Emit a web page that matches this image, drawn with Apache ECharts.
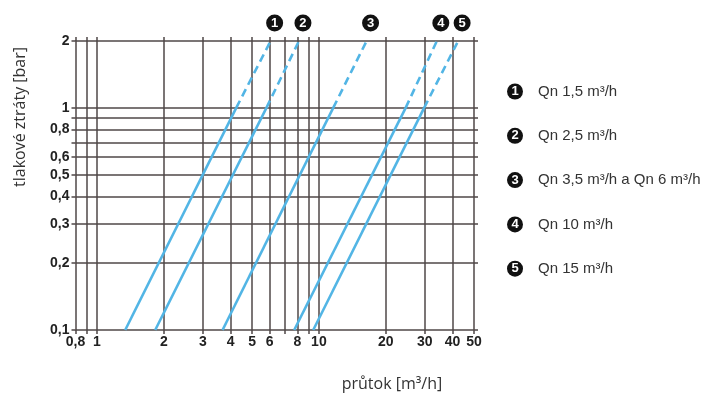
<!DOCTYPE html>
<html><head><meta charset="utf-8">
<script src="https://cdn.jsdelivr.net/npm/echarts@6/dist/echarts.min.js"></script>
<style>html,body{margin:0;padding:0;background:#fff}#c{width:710px;height:394px}</style>
</head><body><div id="c"></div>
<script>
// Pressure loss (bar) at which flows are read
const lossLow = 0.1, lossMid = 1, lossHigh = 2;
// Flow (m3/h) of each meter curve at 0.1 bar, 1 bar and 2 bar
const flowAt01 = [1.34, 1.83, 3.68, 7.74, 9.43];
const flowAt1  = [4.24, 5.80, 11.6, 24.6, 29.8];
const flowAt2  = [6.06, 8.13, 16.4, 34.0, 42.4];
const badges = ['1','2','3','4','5'];
const legendNames = ['Qn 1,5 m³/h','Qn 2,5 m³/h','Qn 3,5 m³/h a Qn 6 m³/h','Qn 10 m³/h','Qn 15 m³/h'];
// axis ticks / labels
const xTicks = [0.8,0.9,1,2,3,4,5,6,7,8,9,10,20,30,40,50];
const xLabels = [0.8,1,2,3,4,5,6,8,10,20,30,40,50];
const yTicks = [0.1,0.2,0.3,0.4,0.5,0.6,0.7,0.8,0.9,1,2];
const yLabels = [0.1,0.2,0.3,0.4,0.5,0.6,0.8,1,2];

const gridColor = '#4f4747';
const lineColor = '#52b5e5';
const fmt = v => String(Math.round(v*10)/10).replace('.', ',');
const labelStyle = {color:'#222', fontWeight:'bold', fontSize:14, fontFamily:'Liberation Sans, Arial, sans-serif'};

function mkX(pos, showLabel){
  return {type:'log', logBase:10, min:0.8, max:50, position:pos,
    axisLine:{show:false},
    axisTick:{show:true, length:4, customValues:xTicks, lineStyle:{color:gridColor, width:1.5}},
    axisLabel:Object.assign({show:showLabel, customValues:xLabels, formatter:fmt, margin:5}, labelStyle),
    splitLine:{show:pos==='bottom', lineStyle:{color:gridColor, width:1.5}},
    minorTick:{show:false}, minorSplitLine:{show:false}};
}
function mkY(pos, showLabel){
  return {type:'log', logBase:10, min:0.1, max:2, position:pos,
    axisLine:{show:false},
    axisTick:{show:true, length:4, customValues:yTicks, lineStyle:{color:gridColor, width:1.5}},
    axisLabel:Object.assign({show:showLabel, customValues:yLabels, formatter:fmt, margin:6}, labelStyle),
    splitLine:{show:pos==='left', lineStyle:{color:gridColor, width:1.5}},
    minorTick:{show:false}, minorSplitLine:{show:false}};
}

const series = [];
for (let i = 0; i < flowAt01.length; i++) {
  series.push({type:'line', xAxisIndex:0, yAxisIndex:0, symbol:'none', silent:true,
    lineStyle:{color:lineColor, width:2.6},
    data:[[flowAt01[i], lossLow],[flowAt1[i], lossMid]]});
  series.push({type:'line', xAxisIndex:0, yAxisIndex:0, symbol:'none', silent:true,
    lineStyle:{color:lineColor, width:2.6, type:[8,5]},
    data:[[flowAt1[i], lossMid],[flowAt2[i], lossHigh]],
    markPoint:{symbol:'circle', symbolSize:17, symbolOffset:[4,-18], silent:true,
      itemStyle:{color:'#111'},
      label:{show:true, color:'#fff', fontWeight:'bold', fontSize:13, fontFamily:'Liberation Sans, Arial, sans-serif', formatter:badges[i]},
      data:[{coord:[flowAt2[i], lossHigh]}]}});
}

const graphics = [];
legendNames.forEach((name, i) => {
  const y = 91.5 + i*44.3;
  graphics.push({type:'circle', shape:{cx:515, cy:y, r:8}, style:{fill:'#111'}});
  graphics.push({type:'text', x:515, y:y, style:{text:badges[i], fill:'#fff', font:'bold 13px Liberation Sans, Arial', textAlign:'center', textVerticalAlign:'middle'}});
  graphics.push({type:'text', x:538, y:y, style:{text:name, fill:'#333', font:'15px Liberation Sans, Arial', textVerticalAlign:'middle'}});
});
graphics.push({type:'text', x:392, y:384, style:{text:'průtok [m³/h]', fill:'#333', font:'16px Open Sans, Noto Sans, sans-serif', textAlign:'center', textVerticalAlign:'middle'}});
graphics.push({type:'text', x:20, y:117, rotation:Math.PI/2, style:{text:'tlakové ztráty [bar]', fill:'#333', font:'16px Open Sans, Noto Sans, sans-serif', textAlign:'center', textVerticalAlign:'middle'}});

const chart = echarts.init(document.getElementById('c'), null, {renderer:'canvas'});
chart.setOption({
  animation:false,
  grid:{left:75.5, right:236, top:41, bottom:64},
  xAxis:[mkX('bottom', true), mkX('top', false)],
  yAxis:[mkY('left', true), mkY('right', false)],
  series:series,
  graphic:graphics
});
</script></body></html>
